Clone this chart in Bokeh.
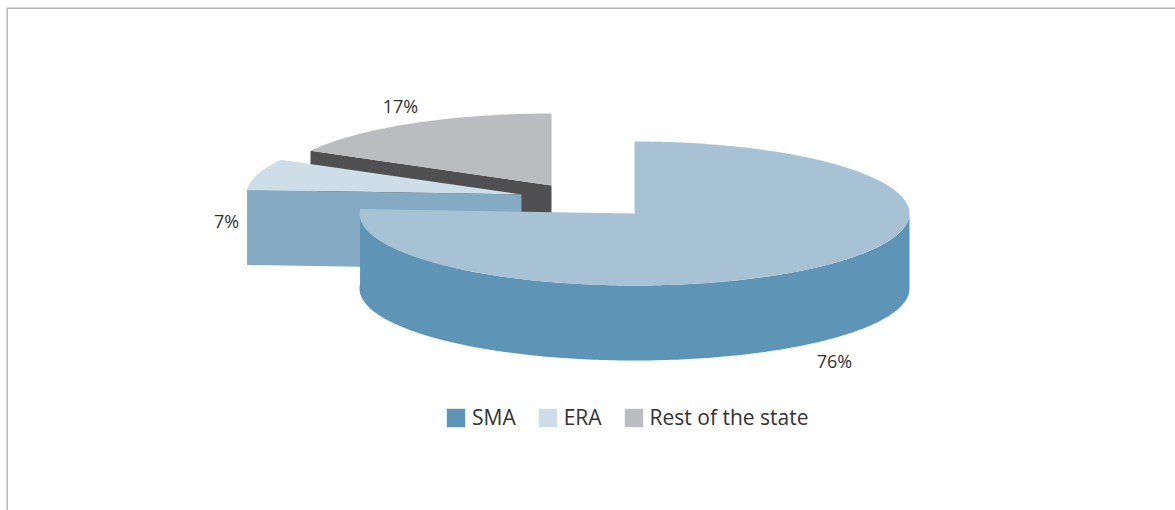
import numpy as np
from bokeh.embed import file_html
from bokeh.resources import INLINE
from bokeh.plotting import figure
from bokeh.models import Legend, LegendItem, Range1d
from bokeh.core.properties import value

categories = ["SMA", "ERA", "Rest of the state"]
shares = [76, 7, 17]
top_colors = ["#a6c2d4", "#cddee8", "#bbbcc0"]
wall_colors = ["#5e94b5", "#84aac4", "#505052"]
centers_x = [634, 521, 551]
centers_y = [213, 194, 185]
label_x = [834, 226, 400]
label_y = [360, 220, 105]

RX, RY, DEPTH = 275, 72, 75
FONT = "Open Sans"

p = figure(width=1175, height=510, output_backend="svg", toolbar_location=None,
           x_range=Range1d(0, 1175), y_range=Range1d(510, 0),
           min_border=0, outline_line_color=None, background_fill_color="white",
           border_fill_color="white")
p.axis.visible = False
p.grid.visible = False

p.line([6.7, 6.7, 1175], [510, 7.7, 7.7], line_color="#b4b4b4", line_width=1.4)


def pt(cx, cy, a):
    return cx + RX * np.sin(a), cy - RY * np.cos(a)


edges = np.cumsum([0] + shares) / sum(shares) * 2 * np.pi
slices = [(edges[i], edges[i + 1], centers_x[i], centers_y[i]) for i in range(3)]
tops, walls = {}, {}

a0, a1, cx, cy = slices[2]
x0, y0 = pt(cx, cy, a0)
walls[2] = p.patch([x0, cx, cx, x0], [y0, cy, cy + DEPTH, y0 + DEPTH],
                   fill_color=wall_colors[2], line_color=None)
t = np.linspace(a0, a1, 80)
x, y = pt(cx, cy, t)
tops[2] = p.patch(np.r_[cx, x], np.r_[cy, y], fill_color=top_colors[2], line_color=None)

a0, a1, cx, cy = slices[1]
t = np.linspace(a0, a1, 40)
x, y = pt(cx, cy, t)
tops[1] = p.patch(np.r_[cx, x], np.r_[cy, y], fill_color=top_colors[1], line_color=None)
x0, y0 = pt(cx, cy, a0)
walls[1] = p.patch([x0, cx, cx, x0], [y0, cy, cy + DEPTH, y0 + DEPTH],
                   fill_color=wall_colors[1], line_color=None)

a0, a1, cx, cy = slices[0]
t = np.linspace(np.pi / 2, a1, 200)
x, y = pt(cx, cy, t)
walls[0] = p.patch(np.r_[x, x[::-1]], np.r_[y, y[::-1] + DEPTH],
                   fill_color=wall_colors[0], line_color=None)
t = np.linspace(a0, a1, 300)
x, y = pt(cx, cy, t)
tops[0] = p.patch(np.r_[cx, x], np.r_[cy, y], fill_color=top_colors[0], line_color=None)

p.text(label_x, label_y, text=[f"{s}%" for s in shares], text_align="center",
       text_baseline="middle", text_font=value(FONT), text_font_size="18px",
       text_color="#333333")

legend = Legend(items=[LegendItem(label=categories[0], renderers=[walls[0]]),
                       LegendItem(label=categories[1], renderers=[tops[1]]),
                       LegendItem(label=categories[2], renderers=[tops[2]])],
                orientation="horizontal", location=(444, 79), padding=0, margin=0,
                spacing=20, glyph_width=23, glyph_height=23, label_standoff=5,
                label_text_font=FONT, label_text_font_size="21px",
                label_text_color="#333333", label_height=23,
                border_line_color=None, background_fill_alpha=0)
p.add_layout(legend)

open("out.html", "w").write(file_html(p, INLINE))
